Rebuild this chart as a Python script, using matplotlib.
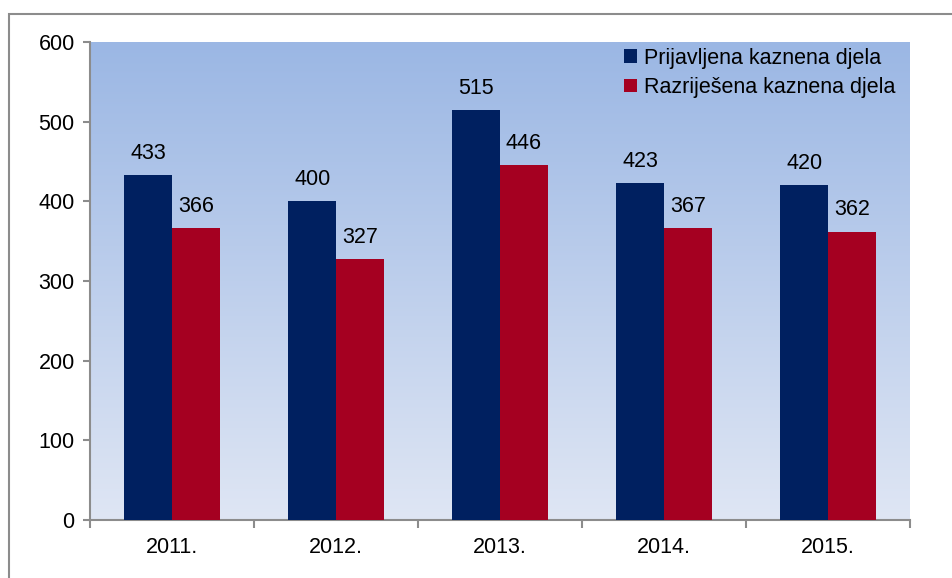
import numpy as np
import matplotlib.pyplot as plt
from matplotlib.patches import Rectangle

plt.rcParams['font.family'] = ['Liberation Sans', 'DejaVu Sans']

years = ["2011.", "2012.", "2013.", "2014.", "2015."]
prijavljena = [433, 400, 515, 423, 420]
razrijesena = [366, 327, 446, 367, 362]
series_names = ["Prijavljena kaznena djela", "Razriješena kaznena djela"]

navy = "#002060"
red = "#A50021"
grey = "#8C8C8C"
fs = 15.5

fig = plt.figure(figsize=(9.53, 5.78), dpi=100)
W, H = 953, 578
ax = fig.add_axes([90 / W, 1 - 520 / H, 820 / W, 478 / H])

# outer frame (cropped at right and bottom)
fig.patches.append(Rectangle((9 / W, -0.1), 1.2, 1 - 14 / H + 0.1,
                             transform=fig.transFigure, fill=False,
                             edgecolor=grey, linewidth=1.5))

x = np.arange(len(years))
bw = 0.29
ax.bar(x - bw / 2, prijavljena, bw, color=navy, label=series_names[0], zorder=3)
ax.bar(x + bw / 2, razrijesena, bw, color=red, label=series_names[1], zorder=3)

for i in range(len(years)):
    ax.annotate(str(prijavljena[i]), (x[i] - bw / 2, prijavljena[i]), xytext=(0, 8),
                textcoords="offset points", ha="center", va="bottom", fontsize=fs)
    ax.annotate(str(razrijesena[i]), (x[i] + bw / 2, razrijesena[i]), xytext=(0, 8),
                textcoords="offset points", ha="center", va="bottom", fontsize=fs)

ax.set_xlim(-0.5, len(years) - 0.5)
ax.set_ylim(0, 600)

# gradient background
grad = np.linspace(0, 1, 256).reshape(-1, 1)
top = np.array([0x9B, 0xB7, 0xE4]) / 255
bot = np.array([0xDF, 0xE6, 0xF4]) / 255
img = top + (bot - top) * grad[:, :, None] * np.ones((1, 1, 3))
ax.imshow(img, extent=[-0.5, len(years) - 0.5, 0, 600], aspect="auto",
          origin="upper", zorder=0)

ax.set_yticks(range(0, 601, 100))
ax.set_xticks(x)
ax.set_xticklabels(years)
ax.set_xticks(np.arange(-0.5, len(years), 1), minor=True)
ax.tick_params(axis="x", which="major", length=0, pad=12, labelsize=fs)
ax.tick_params(axis="x", which="minor", length=6, width=1.5, color=grey, direction="out")
ax.tick_params(axis="y", length=5, width=1.5, color=grey, labelsize=fs, pad=6)

for s in ["top", "right"]:
    ax.spines[s].set_visible(False)
for s in ["left", "bottom"]:
    ax.spines[s].set_color(grey)
    ax.spines[s].set_linewidth(1.5)

ax.legend(loc="upper right", bbox_to_anchor=(1.0, 1.02), frameon=False, fontsize=fs,
          handlelength=0.6, handleheight=0.6, handletextpad=0.3, labelspacing=0.4,
          borderaxespad=0.3)

plt.savefig("out.png", dpi=100)
